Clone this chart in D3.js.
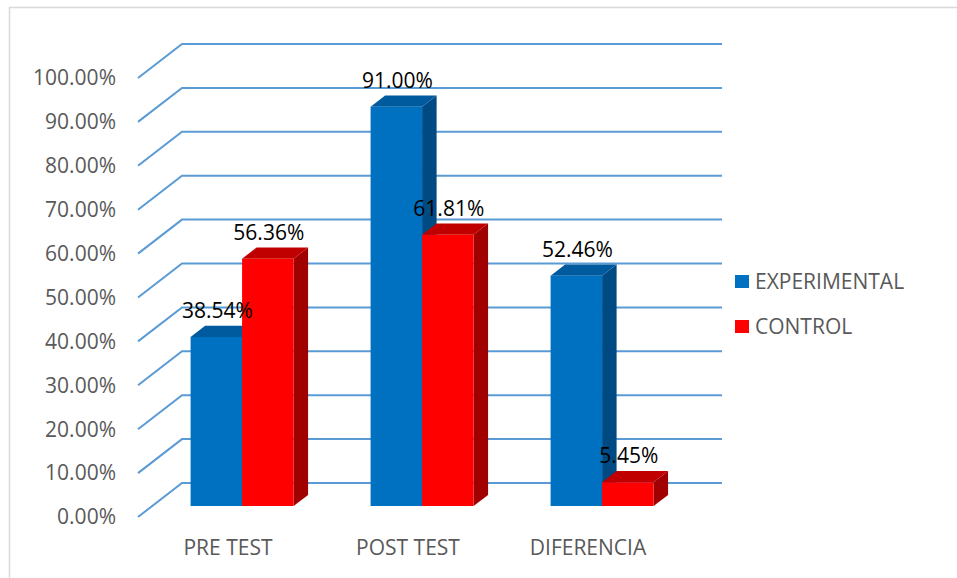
<!DOCTYPE html>
<html>
<head>
<meta charset="utf-8">
<script src="https://cdn.jsdelivr.net/npm/d3@7"></script>
<style>
  body { margin: 0; background: #fff; }
  text { font-family: "Open Sans", sans-serif; }
</style>
</head>
<body>
<div id="chart"></div>
<script>
// Chart values
const categories = ["PRE TEST", "POST TEST", "DIFERENCIA"];
const seriesNames = ["EXPERIMENTAL", "CONTROL"];
const experimental = [0.3854, 0.91, 0.5246];
const control = [0.5636, 0.6181, 0.0545];
const yTicks = [0, 0.1, 0.2, 0.3, 0.4, 0.5, 0.6, 0.7, 0.8, 0.9, 1.0];

const width = 957, height = 578;

// 3D layout: front-left origin, depth vector
const origin = { x: 138, y: 517 };
const depth = { dx: 44, dy: -34 };
const plotW = 540, plotH = 439;
const barZ = [0.32, 0.65]; // front / back of the bars along the depth

const colors = {
  EXPERIMENTAL: { front: "#0070C0", top: "#005A9E", side: "#004A84" },
  CONTROL: { front: "#FF0000", top: "#C00000", side: "#A00000" }
};
const gridColor = "#5B9BD5";

const svg = d3.select("#chart").append("svg")
  .attr("width", width)
  .attr("height", height);

// chart border (top and left visible only)
svg.append("rect")
  .attr("x", 9.5).attr("y", 7.5)
  .attr("width", 960).attr("height", 600)
  .attr("fill", "none")
  .attr("stroke", "#d9d9d9")
  .attr("stroke-width", 1.5);

const y = d3.scaleLinear().domain([0, 1]).range([0, plotH]);
const x0 = d3.scaleBand().domain(categories).range([0, plotW])
  .paddingInner(0.428).paddingOuter(0.214);
const x1 = d3.scaleBand().domain(seriesNames).range([0, x0.bandwidth()]);

// project a point (x along plot, value, z depth 0..1) to screen
function pt(x, v, z) {
  return [origin.x + x + depth.dx * z, origin.y - y(v) + depth.dy * z];
}
function poly(points) {
  return points.map(p => p.join(",")).join(" ");
}

// Gridlines: floor diagonal on the left + back-wall horizontal line
const grid = svg.append("g").attr("class", "grid");
yTicks.forEach(t => {
  const a = pt(0, t, 0), b = pt(0, t, 1), c = pt(plotW, t, 1);
  grid.append("polyline")
    .attr("points", poly([a, b, c]))
    .attr("fill", "none")
    .attr("stroke", gridColor)
    .attr("stroke-width", 2);
});

// Y axis labels
svg.append("g").selectAll("text")
  .data(yTicks)
  .enter().append("text")
  .attr("x", 116)
  .attr("y", d => pt(0, d, 0)[1])
  .attr("dy", "0.35em")
  .attr("text-anchor", "end")
  .attr("fill", "#595959")
  .style("font-size", "21px")
  .text(d => d3.format(".2%")(d));

// Bars
const rows = [];
categories.forEach((c, i) => {
  rows.push({ cat: c, series: "EXPERIMENTAL", value: experimental[i] });
  rows.push({ cat: c, series: "CONTROL", value: control[i] });
});

const bars = svg.append("g").attr("class", "bars");
rows.forEach(d => {
  const xl = x0(d.cat) + x1(d.series);
  const xr = xl + x1.bandwidth();
  const [zf, zb] = barZ;
  const col = colors[d.series];
  const g = bars.append("g");
  // side face
  g.append("polygon")
    .attr("points", poly([pt(xr, 0, zf), pt(xr, 0, zb), pt(xr, d.value, zb), pt(xr, d.value, zf)]))
    .attr("fill", col.side);
  // top face
  g.append("polygon")
    .attr("points", poly([pt(xl, d.value, zf), pt(xr, d.value, zf), pt(xr, d.value, zb), pt(xl, d.value, zb)]))
    .attr("fill", col.top);
  // front face
  g.append("polygon")
    .attr("points", poly([pt(xl, 0, zf), pt(xr, 0, zf), pt(xr, d.value, zf), pt(xl, d.value, zf)]))
    .attr("fill", col.front);
});

// Data labels
svg.append("g").selectAll("text")
  .data(rows)
  .enter().append("text")
  .attr("x", d => pt(x0(d.cat) + x1(d.series) + x1.bandwidth() / 2, d.value, barZ[0])[0] + 1)
  .attr("y", d => pt(0, d.value, barZ[1])[1] - 15)
  .attr("dy", "0.35em")
  .attr("text-anchor", "middle")
  .attr("fill", "#000")
  .style("font-size", "21px")
  .text(d => d3.format(".2%")(d.value));

// Category labels
svg.append("g").selectAll("text")
  .data(categories)
  .enter().append("text")
  .attr("x", d => pt(x0(d) + x0.bandwidth() / 2, 0, 0)[0])
  .attr("y", 548)
  .attr("dy", "0.35em")
  .attr("text-anchor", "middle")
  .attr("fill", "#595959")
  .style("font-size", "21px")
  .text(d => d);

// Legend
const legend = svg.append("g")
  .attr("transform", "translate(735,275)")
  .selectAll("g")
  .data(seriesNames)
  .enter().append("g")
  .attr("transform", (d, i) => "translate(0," + (i * 45) + ")");

legend.append("rect")
  .attr("width", 14).attr("height", 13)
  .attr("fill", d => colors[d].front);

legend.append("text")
  .attr("x", 20)
  .attr("y", 6.5)
  .attr("dy", "0.35em")
  .attr("fill", "#595959")
  .style("font-size", "21px")
  .text(d => d);
</script>
</body>
</html>
